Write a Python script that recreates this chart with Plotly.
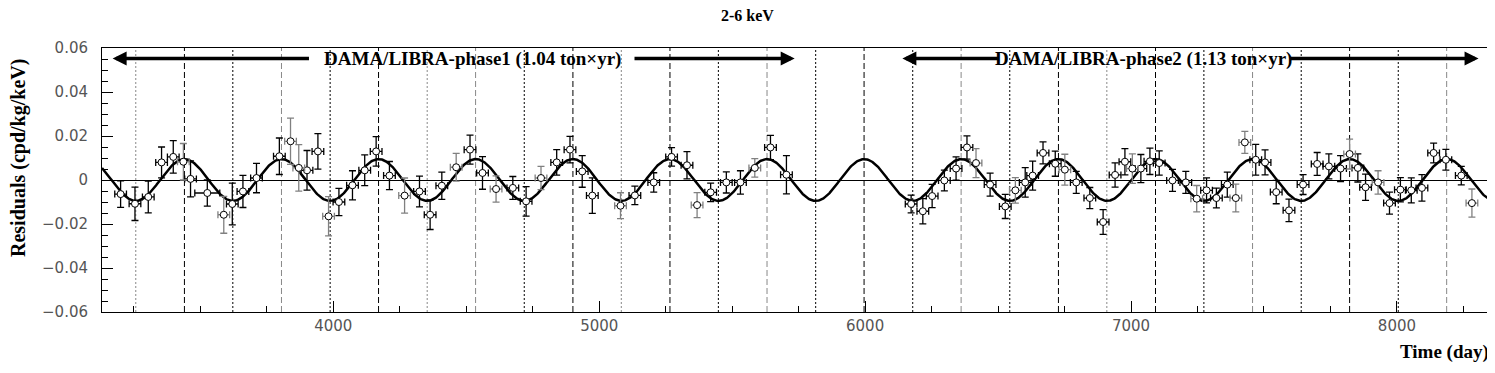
import numpy as np
import plotly.graph_objects as go

# measured residuals (2-6 keV), days since 1 Jan 1995
days = [3200, 3254, 3304, 3354, 3398, 3436, 3463, 3526, 3588, 3620, 3660, 3711,
        3797, 3839, 3870, 3901, 3942, 3982, 4021, 4072, 4118, 4161, 4211, 4268,
        4324, 4364, 4408, 4462, 4514, 4561, 4612, 4675, 4725, 4781, 4840, 4890,
        4936, 4974, 5080, 5134, 5205, 5272, 5330, 5368, 5419, 5478, 5531, 5585,
        5644, 5704,
        6173, 6217, 6252, 6298, 6342, 6383, 6417, 6470, 6527, 6565, 6602, 6630,
        6669, 6715, 6751, 6794, 6845, 6895, 6940, 6977, 7005, 7037, 7071, 7106,
        7156, 7206, 7247, 7284, 7321, 7362, 7394, 7428, 7469, 7504, 7546, 7594,
        7647, 7700, 7744, 7788, 7822, 7853, 7882, 7929, 7972, 8013, 8054, 8094,
        8138, 8184, 8242, 8282]
resid = [-0.0064, -0.0108, -0.0077, 0.0080, 0.0105, 0.0083, 0.0005, -0.0059,
         -0.0158, -0.0109, -0.0052, 0.0009, 0.0108, 0.0176, 0.0055, 0.0044,
         0.0130, -0.0165, -0.0100, -0.0024, 0.0044, 0.0130, 0.0020, -0.0071,
         -0.0052, -0.0158, -0.0026, 0.0058, 0.0138, 0.0032, -0.0041, -0.0036,
         -0.0097, 0.0009, 0.0080, 0.0138, 0.0039, -0.0071, -0.0117, -0.0070,
         -0.0011, 0.0105, 0.0067, -0.0114, -0.0056, -0.0011, -0.0011, 0.0055,
         0.0148, 0.0024,
         -0.0109, -0.0142, -0.0073, -0.0002, 0.0052, 0.0148, 0.0077, -0.0021,
         -0.0120, -0.0047, -0.0011, 0.0020, 0.0123, 0.0074, 0.0047, -0.0011,
         -0.0082, -0.0191, 0.0023, 0.0083, 0.0052, 0.0052, 0.0085, 0.0077,
         -0.0002, -0.0011, -0.0085, -0.0047, -0.0082, -0.0021, -0.0082, 0.0171,
         0.0092, 0.0080, -0.0055, -0.0138, -0.0021, 0.0073, 0.0062, 0.0052,
         0.0118, 0.0055, -0.0033, -0.0011, -0.0105, -0.0044, -0.0047, -0.0036,
         0.0123, 0.0092, 0.0020, -0.0105]
resid_err = [0.0060, 0.0076, 0.0072, 0.0070, 0.0074, 0.0083, 0.0082, 0.0060,
             0.0084, 0.0095, 0.0073, 0.0067, 0.0083, 0.0105, 0.0106, 0.0090,
             0.0081, 0.0089, 0.0062, 0.0066, 0.0070, 0.0067, 0.0064, 0.0080,
             0.0070, 0.0067, 0.0062, 0.0063, 0.0066, 0.0074, 0.0060, 0.0052,
             0.0067, 0.0053, 0.0058, 0.0060, 0.0072, 0.0081, 0.0059, 0.0042,
             0.0044, 0.0042, 0.0062, 0.0057, 0.0042, 0.0048, 0.0053, 0.0042,
             0.0055, 0.0087,
             0.0040, 0.0057, 0.0053, 0.0047, 0.0053, 0.0053, 0.0066, 0.0052,
             0.0055, 0.0058, 0.0067, 0.0066, 0.0050, 0.0057, 0.0070, 0.0050,
             0.0048, 0.0056, 0.0055, 0.0060, 0.0067, 0.0064, 0.0060, 0.0055,
             0.0050, 0.0050, 0.0060, 0.0057, 0.0045, 0.0057, 0.0063, 0.0050,
             0.0070, 0.0057, 0.0053, 0.0051, 0.0045, 0.0052, 0.0057, 0.0059,
             0.0068, 0.0064, 0.0060, 0.0053, 0.0050, 0.0055, 0.0057, 0.0060,
             0.0045, 0.0047, 0.0042, 0.0064]
days_err = [22] * len(days)
days_err[7] = 47

# fit: A cos(2pi/T (t - t0))
fit_A = 0.0095
fit_T = 365.25
fit_t0 = 152.5

# vertical reference lines (maxima dashed / minima dotted)
line_days = [3257, 3440, 3622, 3805, 3988, 4170, 4353, 4535, 4718, 4901, 5083,
             5266, 5448, 5631, 5814, 5996, 6179, 6361, 6544, 6727, 6909, 7092,
             7274, 7457, 7640, 7822, 8005, 8187]

# styling only
grey_points = [6, 9, 14, 15, 18, 24, 28, 31, 34, 39, 44, 48, 57, 60, 65, 71,
               77, 81, 82, 91, 94, 102]
grey_lines = [0, 3, 6, 7, 10, 13, 17, 20, 23, 27]

x_range = [3130, 8350]
fig = go.Figure()

for i, d in enumerate(line_days):
    fig.add_shape(
        type="line", xref="x", yref="paper", x0=d, x1=d, y0=0, y1=1,
        line=dict(color="#888888" if i in grey_lines else "black",
                  width=1, dash="6px,3px" if i % 2 else "2px,2px"),
        layer="below",
    )

t = np.linspace(x_range[0], x_range[1], 2000)
fig.add_trace(go.Scatter(
    x=t, y=fit_A * np.cos(2 * np.pi / fit_T * (t - fit_t0)),
    mode="lines", line=dict(color="black", width=2.5), hoverinfo="skip",
))

for grey in (False, True):
    idx = [i for i in range(len(days)) if ((i + 1) in grey_points) == grey]
    col = "#808080" if grey else "black"
    fig.add_trace(go.Scatter(
        x=[days[i] for i in idx],
        y=[resid[i] for i in idx],
        mode="markers",
        marker=dict(symbol="circle", size=7, color="white",
                    line=dict(color="black", width=1)),
        error_y=dict(type="data", array=[resid_err[i] for i in idx],
                     color=col, thickness=1.3, width=3.5),
        error_x=dict(type="data", array=[days_err[i] for i in idx],
                     color=col, thickness=1.3, width=3.5),
    ))

# page body adds an 8px offset; figure pixel positions below are window pixels
OFF = 8
W, H = 1495 - OFF, 373 - OFF
left, right, top, bottom = 102, 1490, 48, 312
ml, mr, mt = left - OFF, W - (right - OFF), top - OFF
mb = H - (bottom - OFF)
pw, ph = right - left, bottom - top


def px(x):
    return (x - left) / pw


def py(y):
    return (bottom - y) / ph


serif = "Liberation Serif"
arrow = dict(xref="x", yref="y", axref="x", ayref="y", showarrow=True,
             arrowhead=2, arrowsize=0.8, arrowwidth=3.5, arrowcolor="black", text="")
ya = 0.0552
fig.add_annotation(x=3170, y=ya, ax=3914, ay=ya, **arrow)
fig.add_annotation(x=5735, y=ya, ax=5127, ay=ya, **arrow)
fig.add_annotation(x=6140, y=ya, ax=6505, ay=ya, **arrow)
fig.add_annotation(x=8307, y=ya, ax=7594, ay=ya, **arrow)

fig.add_annotation(x=4522, y=ya, xref="x", yref="y", showarrow=False,
                   text="<b>DAMA/LIBRA-phase1 (1.04 ton×yr)</b>",
                   font=dict(family=serif, size=19, color="black"))
fig.add_annotation(x=7045, y=ya, xref="x", yref="y", showarrow=False,
                   text="<b>DAMA/LIBRA-phase2 (1.13 ton×yr)</b>",
                   font=dict(family=serif, size=19, color="black"))

fig.add_annotation(x=px(747), y=py(15), xref="paper", yref="paper", showarrow=False,
                   xanchor="center", yanchor="middle",
                   text="<b>2-6 keV</b>", font=dict(family=serif, size=16, color="black"))
fig.add_annotation(x=px(18), y=py(158), xref="paper", yref="paper", showarrow=False,
                   xanchor="center", yanchor="middle",
                   text="<b>Residuals (cpd/kg/keV)</b>", textangle=-90,
                   font=dict(family=serif, size=20, color="black"))
fig.add_annotation(x=px(1491), y=py(352), xref="paper", yref="paper", showarrow=False,
                   xanchor="right", yanchor="middle",
                   text="<b>Time (day)</b>", font=dict(family=serif, size=19, color="black"))

fig.update_layout(
    width=W, height=H,
    margin=dict(l=ml, r=mr, t=mt, b=mb, autoexpand=False),
    paper_bgcolor="white", plot_bgcolor="white",
    showlegend=False,
)
fig.update_xaxes(
    range=x_range, showgrid=False, zeroline=False, automargin=False,
    showline=True, linecolor="black", linewidth=1, mirror=True,
    ticks="inside", ticklen=11, tickcolor="black", dtick=1000, tick0=0,
    minor=dict(ticks="inside", ticklen=6, dtick=250, tick0=0, tickcolor="black"),
    tickfont=dict(family="DejaVu Sans", size=15, color="#555555"),
)
fig.update_yaxes(
    range=[-0.06, 0.06], showgrid=False, automargin=False,
    zeroline=True, zerolinecolor="black", zerolinewidth=1,
    showline=True, linecolor="black", linewidth=1, mirror=True,
    ticks="inside", ticklen=11, tickcolor="black", dtick=0.02, tick0=0,
    ticklabelstandoff=10,
    minor=dict(ticks="inside", ticklen=6, dtick=0.005, tick0=0, tickcolor="black"),
    tickfont=dict(family="DejaVu Sans", size=15, color="#555555"),
)

fig.write_html("out.html")
